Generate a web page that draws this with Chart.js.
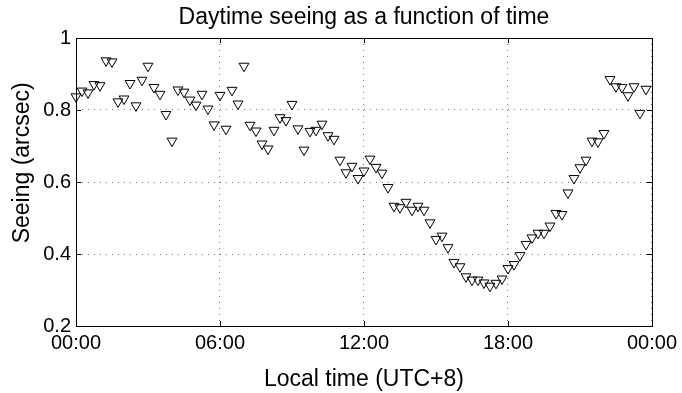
<!DOCTYPE html>
<html>
<head>
<meta charset="utf-8">
<script src="https://cdn.jsdelivr.net/npm/chart.js@4"></script>
<style>
  html, body { margin: 0; padding: 0; background: #fff; }
  canvas { display: block; }
</style>
</head>
<body>
<canvas id="seeing-chart" width="682" height="393"></canvas>
<script>
// sample times (local, UTC+8), one every 15 minutes
const times = [
  "00:00", "00:15", "00:30", "00:45", "01:00", "01:15", "01:30", "01:45",
  "02:00", "02:15", "02:30", "02:45", "03:00", "03:15", "03:30", "03:45",
  "04:00", "04:15", "04:30", "04:45", "05:00", "05:15", "05:30", "05:45",
  "06:00", "06:15", "06:30", "06:45", "07:00", "07:15", "07:30", "07:45",
  "08:00", "08:15", "08:30", "08:45", "09:00", "09:15", "09:30", "09:45",
  "10:00", "10:15", "10:30", "10:45", "11:00", "11:15", "11:30", "11:45",
  "12:00", "12:15", "12:30", "12:45", "13:00", "13:15", "13:30", "13:45",
  "14:00", "14:15", "14:30", "14:45", "15:00", "15:15", "15:30", "15:45",
  "16:00", "16:15", "16:30", "16:45", "17:00", "17:15", "17:30", "17:45",
  "18:00", "18:15", "18:30", "18:45", "19:00", "19:15", "19:30", "19:45",
  "20:00", "20:15", "20:30", "20:45", "21:00", "21:15", "21:30", "21:45",
  "22:00", "22:15", "22:30", "22:45", "23:00", "23:15", "23:30", "23:45"
];

// seeing in arcsec
const seeing = [
  0.837, 0.853, 0.848, 0.871, 0.868, 0.937, 0.934, 0.823,
  0.831, 0.874, 0.812, 0.883, 0.922, 0.863, 0.844, 0.788,
  0.714, 0.856, 0.850, 0.828, 0.814, 0.844, 0.803, 0.759,
  0.841, 0.747, 0.855, 0.817, 0.922, 0.758, 0.742, 0.706,
  0.692, 0.744, 0.779, 0.771, 0.816, 0.748, 0.689, 0.741,
  0.744, 0.761, 0.729, 0.719, 0.661, 0.626, 0.644, 0.610,
  0.631, 0.664, 0.641, 0.625, 0.585, 0.533, 0.529, 0.544,
  0.522, 0.533, 0.522, 0.487, 0.441, 0.450, 0.418, 0.377,
  0.365, 0.337, 0.328, 0.328, 0.320, 0.311, 0.319, 0.331,
  0.360, 0.371, 0.396, 0.427, 0.445, 0.458, 0.458, 0.478,
  0.513, 0.510, 0.570, 0.610, 0.640, 0.661, 0.714, 0.712,
  0.735, 0.885, 0.865, 0.863, 0.840, 0.865, 0.791, 0.858
];

const xTickLabels = ["00:00", "06:00", "12:00", "18:00", "00:00"];

const FONT = "'Liberation Sans', Arial, Helvetica, sans-serif";

function toHours(t) {
  const [h, m] = t.split(":");
  return Number(h) + Number(m) / 60;
}

// closed box with inward ticks, matlab style
const boxAxes = {
  id: "boxAxes",
  afterDraw(chart) {
    const {ctx, chartArea: a, scales: {x, y}} = chart;
    const len = 5;
    ctx.save();
    ctx.strokeStyle = "#000";
    ctx.lineWidth = 1;
    ctx.beginPath();
    x.ticks.forEach(t => {
      const px = Math.round(x.getPixelForValue(t.value)) + 0.5;
      ctx.moveTo(px, a.bottom);
      ctx.lineTo(px, a.bottom - len);
      ctx.moveTo(px, a.top);
      ctx.lineTo(px, a.top + len);
    });
    y.ticks.forEach(t => {
      const py = Math.round(y.getPixelForValue(t.value)) + 0.5;
      ctx.moveTo(a.left, py);
      ctx.lineTo(a.left + len, py);
      ctx.moveTo(a.right, py);
      ctx.lineTo(a.right - len, py);
    });
    ctx.stroke();
    ctx.strokeRect(a.left + 0.5, a.top + 0.5, a.right - a.left, a.bottom - a.top);
    ctx.restore();
  }
};

Chart.defaults.color = "#000";
Chart.defaults.font.family = FONT;

new Chart(document.getElementById("seeing-chart"), {
  type: "scatter",
  data: {
    datasets: [{
      data: times.map((t, i) => ({x: toHours(t), y: seeing[i]})),
      pointStyle: "triangle",
      rotation: 180,
      radius: 5.7,
      hoverRadius: 5.7,
      borderWidth: 1,
      borderColor: "#000",
      backgroundColor: "rgba(0,0,0,0)",
      clip: false
    }]
  },
  options: {
    responsive: false,
    animation: false,
    devicePixelRatio: 1,
    layout: {padding: {left: 0, right: 29, top: 0, bottom: 0}},
    plugins: {
      legend: {display: false},
      tooltip: {enabled: false},
      title: {
        display: true,
        fullSize: false,
        text: "Daytime seeing as a function of time",
        font: {size: 23, weight: "normal"},
        padding: {top: 4.2, bottom: 6.2}
      }
    },
    scales: {
      x: {
        type: "linear",
        min: 0,
        max: 24,
        afterFit: s => { s.height = 67; },
        ticks: {
          stepSize: 6,
          padding: 5,
          autoSkip: false,
          maxRotation: 0,
          font: {size: 20},
          callback: v => xTickLabels[Math.round(v / 6)]
        },
        grid: {color: "#777", drawTicks: false},
        border: {display: false, dash: [1, 5]},
        title: {
          display: true,
          text: "Local time (UTC+8)",
          font: {size: 23},
          padding: {top: 0, bottom: 0}
        }
      },
      y: {
        min: 0.2,
        max: 1,
        afterFit: s => { s.width = 76; },
        ticks: {
          stepSize: 0.2,
          padding: 5,
          font: {size: 20},
          callback: v => String(+v.toFixed(1))
        },
        grid: {color: "#777", drawTicks: false},
        border: {display: false, dash: [1, 5]},
        title: {
          display: true,
          text: "      Seeing (arcsec)",
          font: {size: 23},
          padding: {top: 9, bottom: 0}
        }
      }
    }
  },
  plugins: [boxAxes]
});
</script>
</body>
</html>
